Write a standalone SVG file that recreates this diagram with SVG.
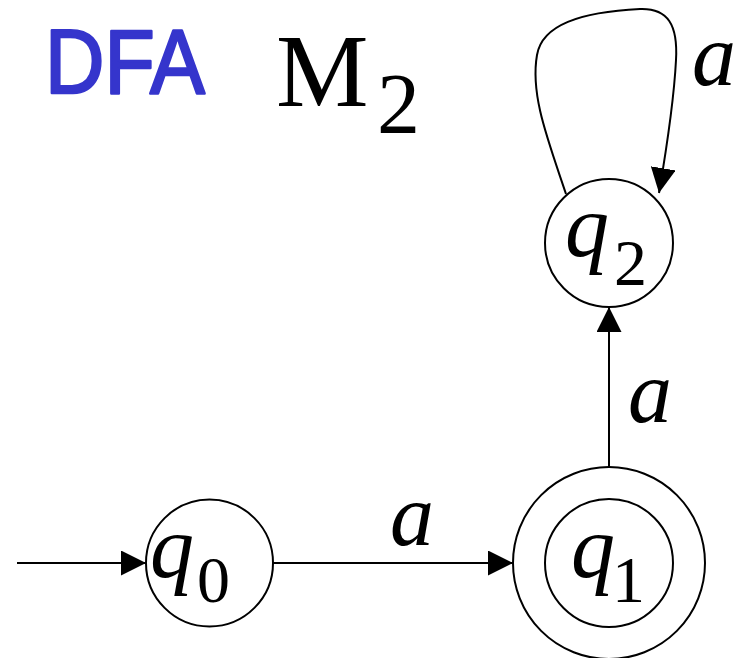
<svg xmlns="http://www.w3.org/2000/svg" width="747" height="658" viewBox="0 0 747 658">
<defs>
<style>
.st{fill:none;stroke:#000;stroke-width:2}
.edge{fill:none;stroke:#000;stroke-width:2;marker-end:url(#ah)}
.lbl{font-family:"Liberation Serif","Times New Roman",serif;font-style:italic;font-size:88px;fill:#000}
.sub{font-family:"Liberation Serif","Times New Roman",serif;font-size:66px;fill:#000}
</style>
<marker id="ah" markerUnits="userSpaceOnUse" markerWidth="27" markerHeight="26" refX="25" refY="12.5" orient="auto">
<path d="M0,0 L25,12.5 L0,25 z" fill="#000"/>
</marker>
</defs>
<rect width="747" height="658" fill="#fff"/>
<g id="title">
<text x="45" y="93" font-family="'Liberation Sans',Arial,sans-serif" font-size="90" fill="#3535cc" stroke="#3535cc" stroke-width="2.5" stroke-linejoin="round" textLength="160" lengthAdjust="spacingAndGlyphs">DFA</text>
<text x="276" y="106" font-family="'Liberation Serif','Times New Roman',serif" font-size="104" fill="#000">M</text>
<text x="377" y="133" font-family="'Liberation Serif','Times New Roman',serif" font-size="86" fill="#000">2</text>
</g>
<g id="connectors">
<line class="edge" x1="17" y1="563" x2="146" y2="563"/>
<line class="edge" x1="273" y1="563" x2="513" y2="563"/>
<line class="edge" x1="609" y1="467" x2="609" y2="307"/>
<path class="edge" d="M 566 194 C 548 140, 530 95, 537 55 C 542 25, 580 12, 640 9 C 668 8, 678 25, 676 60 C 674 100, 668 140, 659 193"/>
<text class="lbl" x="390" y="545">a</text>
<text class="lbl" x="628" y="422">a</text>
<text class="lbl" x="692" y="85">a</text>
</g>
<g id="q0">
<circle class="st" cx="209.5" cy="563" r="63.5"/>
<text class="lbl" x="150" y="577">q</text>
<text class="sub" x="197" y="602">0</text>
</g>
<g id="q1">
<circle class="st" cx="609" cy="563" r="96"/>
<circle class="st" cx="609" cy="563" r="64"/>
<text class="lbl" x="571" y="577">q</text>
<text class="sub" x="612" y="602">1</text>
</g>
<g id="q2">
<circle class="st" cx="609" cy="243" r="64"/>
<text class="lbl" x="565" y="256">q</text>
<text class="sub" x="614" y="285">2</text>
</g>
</svg>
